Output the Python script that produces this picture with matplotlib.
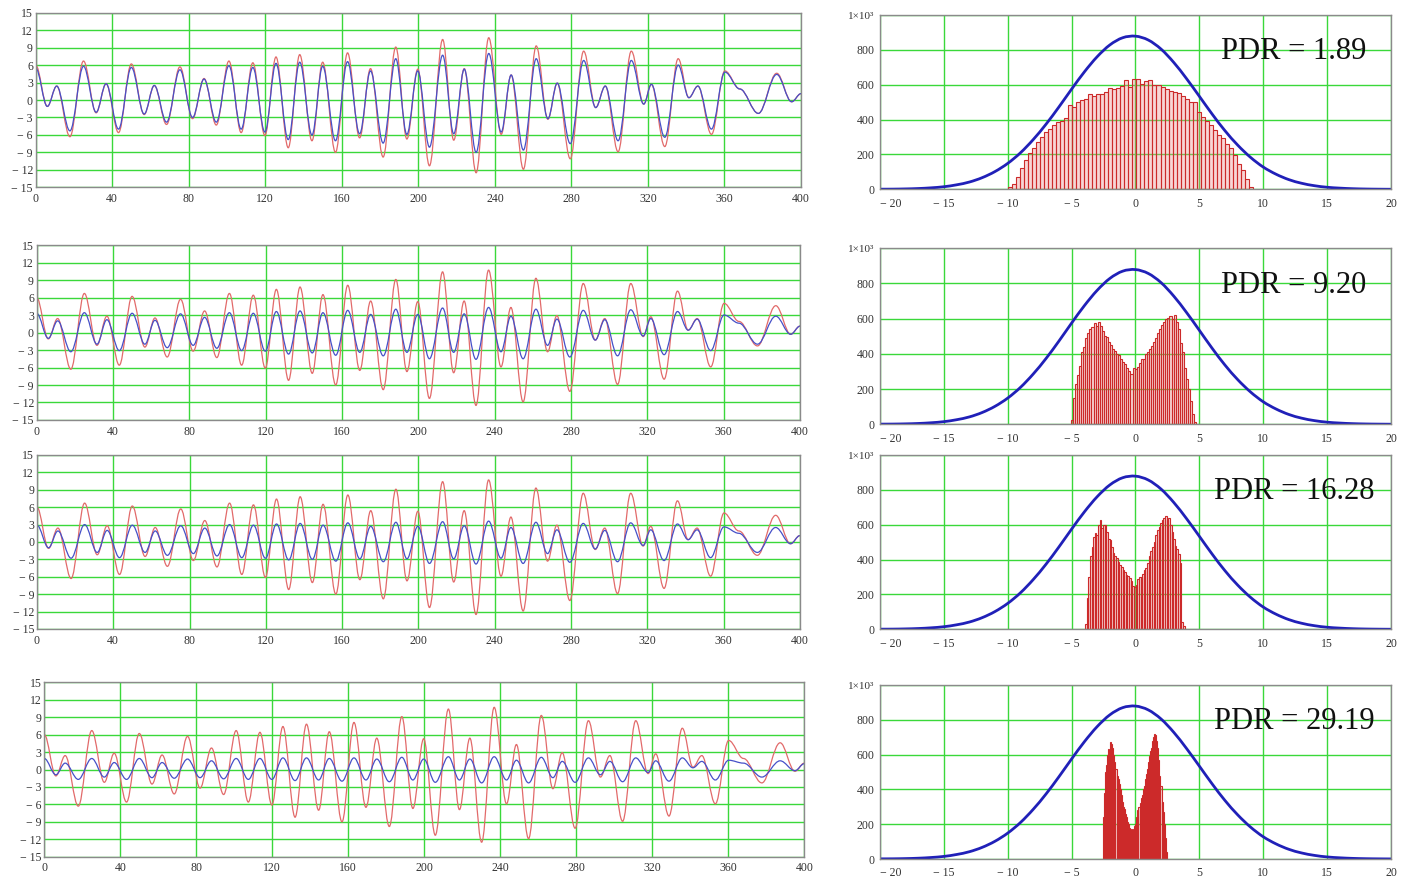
import numpy as np
import matplotlib
matplotlib.use("Agg")
import matplotlib.pyplot as plt
from matplotlib.path import Path
from matplotlib.patches import PathPatch

# ---- signal: extrema of the waveforms (time index, amplitude) ----
t_ext = [0, 6.1, 11, 17.9, 25, 31.6, 36.8, 43.3, 50, 56.7,
         62, 68.4, 75.4, 82, 88, 94.4, 101, 107.4, 113.5, 119.8,
         125.6, 132, 138, 144.4, 150, 156.7, 163, 169.3, 175, 181.6,
         188.2, 194, 199.7, 205.8, 212.7, 218.5, 224, 230.2, 236.8, 243.3,
         248.5, 254.9, 261.6, 267.7, 272.6, 279.4, 286.4, 292.7, 297.7, 304.4,
         311.3, 317.8, 321.8, 328.8, 335.8, 341.4, 346.1, 353.2, 360.2, 368,
         377.7, 387.3, 395.1, 400]

red_ext = [6.0, -1.1, 2.4, -6.3, 6.7, -2.2, 2.8, -5.6, 6.2, -2.5,
           2.5, -4.2, 5.7, -3.2, 3.7, -4.3, 6.7, -5.6, 6.4, -6.1,
           7.4, -8.2, 7.8, -7.0, 6.5, -9.0, 8.1, -6.5, 5.4, -9.8,
           9.1, -6.7, 5.3, -11.3, 10.4, -6.9, 5.4, -12.5, 10.7, -5.9,
           4.3, -11.9, 9.3, -3.3, 2.9, -10.1, 8.4, -1.3, 2.4, -8.9,
           8.4, -0.7, 2.7, -8.0, 7.1, 0.4, 2.4, -5.9, 5.0, 1.9,
           -2.3, 4.6, -0.3, 1.1]

blue_ext_1 = [5.5, -1.1, 2.4, -5.3, 5.8, -2.1, 2.8, -5.0, 5.6, -2.4,
              2.5, -3.8, 5.2, -3.0, 3.6, -3.8, 5.9, -5.0, 5.6, -5.5,
              6.3, -6.8, 6.5, -6.0, 5.8, -7.0, 6.6, -5.8, 5.0, -7.4,
              7.1, -5.9, 5.0, -8.1, 7.7, -5.8, 5.3, -9.0, 8.0, -5.5,
              4.3, -8.6, 7.1, -3.2, 2.9, -7.5, 6.8, -1.3, 2.4, -7.0,
              6.8, -0.7, 2.7, -6.4, 6.0, 0.4, 2.4, -5.0, 4.8, 1.9,
              -2.3, 4.4, -0.3, 1.1]

blue_ext_2 = [3.3, -1.0, 2.0, -3.3, 3.4, -2.0, 2.2, -3.1, 3.3, -2.0,
              2.1, -2.6, 3.2, -2.2, 2.6, -2.7, 3.4, -3.1, 3.3, -3.2,
              3.6, -3.7, 3.7, -3.5, 3.4, -3.9, 3.8, -3.4, 3.1, -4.0,
              4.0, -3.4, 3.1, -4.5, 4.2, -3.4, 3.2, -4.6, 4.3, -3.3,
              2.8, -4.5, 4.0, -2.2, 2.3, -4.2, 3.8, -1.3, 2.2, -4.0,
              3.9, -0.6, 2.4, -3.8, 3.6, 0.4, 2.3, -3.1, 3.0, 1.6,
              -2.0, 2.8, -0.3, 1.1]

blue_ext_3 = [2.9, -1.0, 1.9, -2.8, 3.0, -1.8, 2.0, -2.7, 2.9, -1.8,
              1.9, -2.3, 2.8, -2.0, 2.4, -2.4, 3.0, -2.7, 2.9, -2.8,
              3.1, -3.1, 3.2, -3.0, 2.9, -3.3, 3.3, -2.9, 2.7, -3.4,
              3.4, -2.9, 2.7, -3.7, 3.5, -2.9, 2.8, -3.8, 3.6, -2.8,
              2.5, -3.7, 3.4, -2.0, 2.1, -3.5, 3.2, -1.2, 2.0, -3.4,
              3.3, -0.6, 2.1, -3.2, 3.1, 0.4, 2.1, -2.7, 2.6, 1.5,
              -1.8, 2.5, -0.3, 1.1]

blue_ext_4 = [1.9, -0.9, 1.1, -1.7, 1.9, -1.3, 1.2, -1.7, 1.9, -1.4,
              1.2, -1.5, 1.8, -1.4, 1.5, -1.6, 1.9, -1.7, 1.9, -1.7,
              2.0, -1.9, 2.0, -1.8, 1.9, -2.0, 2.0, -1.8, 1.8, -2.1,
              2.1, -1.8, 1.8, -2.2, 2.2, -1.8, 1.8, -2.3, 2.2, -1.8,
              1.6, -2.3, 2.1, -1.4, 1.4, -2.2, 2.0, -0.9, 1.4, -2.1,
              2.0, -0.5, 1.5, -2.0, 2.0, 0.3, 1.4, -1.8, 1.6, 1.1,
              -1.3, 1.5, -0.2, 1.0]

# ---- reference gaussian ----
g_x = list(range(-20, 21))
g_y = [1, 1.3, 2.5, 4.7, 8.7, 15, 26, 42, 67, 102,
       149, 210, 286, 374, 472, 575, 674, 761, 829, 870,
       879, 857, 805, 728, 635, 534, 432, 337, 254, 184,
       128, 87, 56, 35, 21, 12, 7, 3.7, 1.9, 1.0, 0.5]

# ---- histograms (value range, bin heights) ----
hist_range_1 = (-10.0, 9.2)
hist_1 = [13, 33, 71, 125, 171, 206, 240, 273, 302, 327,
          348, 369, 385, 394, 408, 485, 471, 504, 510, 517,
          548, 537, 548, 548, 556, 581, 577, 581, 594, 625,
          590, 633, 635, 606, 619, 625, 600, 600, 590, 577,
          567, 556, 552, 537, 517, 504, 504, 446, 417, 392,
          369, 340, 311, 292, 263, 238, 196, 148, 110, 62, 13]

hist_range_2 = (-5.05, 4.75)
hist_2 = [25, 150, 230, 280, 330, 410, 440, 490, 520, 540,
          550, 575, 560, 580, 560, 530, 500, 495, 470, 450,
          430, 415, 400, 395, 370, 355, 340, 320, 300, 285,
          320, 315, 325, 350, 370, 372, 400, 410, 425, 445,
          470, 490, 520, 540, 565, 580, 600, 605, 615, 600,
          620, 580, 540, 460, 410, 320, 260, 200, 130, 60, 15]

hist_range_3 = (-3.95, 3.85)
hist_3 = [30, 180, 300, 420, 470, 530, 550, 540, 600, 625,
          580, 600, 600, 560, 520, 510, 470, 440, 420, 410,
          385, 370, 355, 340, 330, 310, 305, 295, 280, 250,
          245, 255, 290, 300, 300, 320, 340, 350, 380, 420,
          450, 470, 500, 540, 570, 590, 610, 630, 640, 650,
          630, 640, 600, 560, 520, 480, 460, 430, 380, 40, 20]

hist_range_4 = (-2.55, 2.45)
hist_4 = [240, 380, 500, 540, 600, 630, 610, 670, 660, 640,
          600, 560, 520, 480, 460, 430, 400, 370, 330, 300,
          290, 260, 240, 210, 200, 180, 170, 160, 170, 160,
          190, 200, 240, 280, 300, 320, 350, 370, 400, 420,
          460, 490, 520, 560, 590, 620, 640, 680, 700, 720,
          710, 680, 640, 570, 480, 420, 330, 270, 200, 120, 40]

pdr_labels = ["PDR = 1.89", "PDR = 9.20", "PDR = 16.28", "PDR = 29.19"]

GRID = "#3ad83a"
SPINE = "#8a8a8a"
TXT = "#333333"
FONT = "Liberation Serif"


def minus(v):
    return ("\u2212 %d" % -v) if v < 0 else "%d" % v


def wave(ax, xs, ys, **kw):
    # smooth path through the extrema, flat tangent at each one
    verts = [(xs[0], ys[0])]
    codes = [Path.MOVETO]
    for i in range(len(xs) - 1):
        d = xs[i + 1] - xs[i]
        verts += [(xs[i] + 0.36 * d, ys[i]), (xs[i + 1] - 0.36 * d, ys[i + 1]),
                  (xs[i + 1], ys[i + 1])]
        codes += [Path.CURVE4] * 3
    ax.add_patch(PathPatch(Path(verts, codes), fill=False, **kw))


def smooth(ax, xs, ys, **kw):
    xs = np.asarray(xs, float)
    ys = np.asarray(ys, float)
    m = np.gradient(ys, xs)
    verts = [(xs[0], ys[0])]
    codes = [Path.MOVETO]
    for i in range(len(xs) - 1):
        d = (xs[i + 1] - xs[i]) / 3
        verts += [(xs[i] + d, ys[i] + m[i] * d), (xs[i + 1] - d, ys[i + 1] - m[i + 1] * d),
                  (xs[i + 1], ys[i + 1])]
        codes += [Path.CURVE4] * 3
    ax.add_patch(PathPatch(Path(verts, codes), fill=False, **kw))


def style(ax, xpad=3, ypad=3):
    for s in ax.spines.values():
        s.set_color(SPINE)
        s.set_linewidth(1.0)
    ax.tick_params(length=0, labelsize=8.5, labelcolor=TXT)
    ax.tick_params(axis="x", pad=xpad)
    ax.tick_params(axis="y", pad=ypad)
    for lab in ax.get_xticklabels() + ax.get_yticklabels():
        lab.set_family(FONT)
    ax.set_axisbelow(True)


fig = plt.figure(figsize=(14.1, 8.77), dpi=100)

left_pos = [[0.0253, 0.7864, 0.5428, 0.1991],
            [0.0260, 0.5211, 0.5414, 0.1995],
            [0.0262, 0.2828, 0.5411, 0.1984],
            [0.0314, 0.0231, 0.5390, 0.1989]]
right_pos = [[0.6241, 0.7841, 0.3624, 0.1987],
             [0.6241, 0.5162, 0.3624, 0.2007],
             [0.6241, 0.2824, 0.3624, 0.1987],
             [0.6241, 0.0205, 0.3624, 0.1984]]

blues = [blue_ext_1, blue_ext_2, blue_ext_3, blue_ext_4]
hists = [hist_1, hist_2, hist_3, hist_4]
ranges = [hist_range_1, hist_range_2, hist_range_3, hist_range_4]

yt = list(range(-15, 16, 3))
xt = list(range(0, 401, 40))
ht = list(range(-20, 21, 5))
hy = [0, 200, 400, 600, 800, 1000]

for r in range(4):
    ax = fig.add_axes(left_pos[r])
    ax.set_xlim(0, 400)
    ax.set_ylim(-15, 15)
    ax.set_xticks(xt)
    ax.set_xticklabels([str(v) for v in xt])
    ax.set_yticks(yt)
    ax.set_yticklabels([minus(v) for v in yt])
    ax.grid(True, color=GRID, lw=1.0)
    wave(ax, t_ext, red_ext, edgecolor="#e26a6a", lw=0.9)
    wave(ax, t_ext, blues[r], edgecolor="#4650c8", lw=0.9)
    style(ax, xpad=4, ypad=2)

    bx = fig.add_axes(right_pos[r])
    bx.set_xlim(-20, 20)
    bx.set_ylim(0, 1000)
    bx.set_xticks(ht)
    bx.set_xticklabels([minus(v) for v in ht])
    bx.set_yticks(hy)
    bx.set_yticklabels([str(v) for v in hy[:-1]] + ["1\u00d710\u00b3"])
    bx.grid(True, color=GRID, lw=1.0)
    lo, hi = ranges[r]
    edges = np.linspace(lo, hi, len(hists[r]) + 1)
    bx.bar(edges[:-1], hists[r], width=np.diff(edges), align="edge",
           facecolor=(0.93, 0.55, 0.55, 0.35), edgecolor="#cc2a2a", linewidth=0.8)
    smooth(bx, g_x, g_y, edgecolor="#2020b8", lw=2.0)
    bx.text(0.81, 0.79, pdr_labels[r], transform=bx.transAxes, ha="center", va="center",
            fontsize=22, family=FONT, color="#111111")
    style(bx, xpad=6, ypad=4)
    for lab in bx.get_xticklabels()[:1]:
        lab.set_horizontalalignment("left")
    bx.get_yticklabels()[-1].set_fontsize(8)

fig.savefig("out.png", dpi=100)
